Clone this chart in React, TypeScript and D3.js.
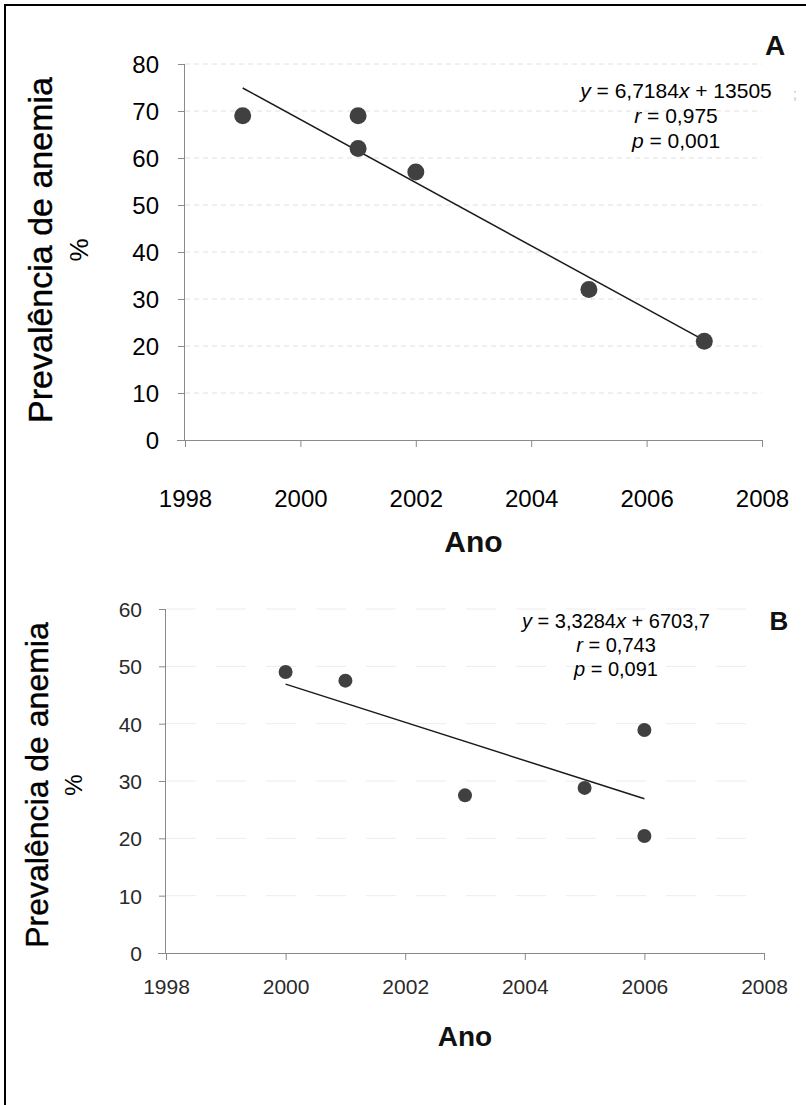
import * as d3 from 'd3'
import { useEffect, useRef } from 'react'

// Panel A
const yearsA = [1999, 2001, 2001, 2002, 2005, 2007]
const prevA = [69, 69, 62, 57, 32, 21]
const trendYearsA = [1999, 2007]
const trendValsA = [74.9, 21.2]
const yTicksA = [0, 10, 20, 30, 40, 50, 60, 70, 80]
const statsA = ['y = 6,7184x + 13505', 'r = 0,975', 'p = 0,001']

// Panel B
const yearsB = [2000, 2001, 2003, 2005, 2006, 2006]
const prevB = [49, 47.5, 27.5, 28.8, 38.9, 20.4]
const trendYearsB = [2000, 2006]
const trendValsB = [46.9, 26.9]
const yTicksB = [0, 10, 20, 30, 40, 50, 60]
const statsB = ['y = 3,3284x + 6703,7', 'r = 0,743', 'p = 0,091']

const xTicks = [1998, 2000, 2002, 2004, 2006, 2008]
const yTitle = 'Prevalência de anemia'
const xTitle = 'Ano'

const FONT = '"Liberation Sans", Arial, sans-serif'

const App = () => {
  const ref = useRef(null)

  useEffect(() => {
    if (!ref.current) return
    d3.select(ref.current).select('svg').remove()

    const svg = d3
      .select(ref.current)
      .append('svg')
      .attr('width', 806)
      .attr('height', 1105)
      .style('font-family', FONT)
      .style('display', 'block')

    svg.append('rect').attr('width', 806).attr('height', 1105).attr('fill', '#fff')

    // outer frame (only top and left visible)
    svg
      .append('path')
      .attr('d', 'M5,1105 V5 H806')
      .attr('fill', 'none')
      .attr('stroke', '#000')
      .attr('stroke-width', 2)

    const drawPanel = (o) => {
      const x = d3.scaleLinear().domain([1998, 2008]).range([o.left, o.right])
      const y = d3.scaleLinear().domain([0, o.yMax]).range([o.bottom, o.top])
      const g = svg.append('g')

      // gridlines
      g.selectAll('.grid')
        .data(o.yTicks.filter((d) => d > 0))
        .enter()
        .append('line')
        .attr('x1', o.left)
        .attr('x2', o.right)
        .attr('y1', (d) => y(d))
        .attr('y2', (d) => y(d))
        .attr('stroke', o.gridColor)
        .attr('stroke-width', 1)
        .attr('stroke-dasharray', o.dash)

      // y axis
      g.append('g')
        .attr('transform', `translate(${o.left},0)`)
        .call(d3.axisLeft(y).tickValues(o.yTicks).tickSize(7).tickPadding(o.yPad))
        .call((a) => a.select('.domain').attr('stroke', '#8a8a8a').attr('d', `M-0.5,${o.top}V${o.bottom}`))
        .call((a) => a.selectAll('.tick line').attr('stroke', '#8a8a8a'))
        .call((a) =>
          a
            .selectAll('.tick text')
            .attr('fill', o.tickColor)
            .style('font-size', `${o.tickFont}px`)
            .style('font-family', FONT)
            .attr('dy', '0.36em')
        )

      // x axis
      g.append('g')
        .attr('transform', `translate(0,${o.bottom})`)
        .call(d3.axisBottom(x).tickValues(xTicks).tickFormat(d3.format('d')).tickSize(7).tickPadding(o.xPad))
        .call((a) => a.select('.domain').attr('stroke', '#8a8a8a').attr('d', `M${o.left - 8},0.5H${o.right}`))
        .call((a) => a.selectAll('.tick line').attr('stroke', '#8a8a8a'))
        .call((a) =>
          a
            .selectAll('.tick text')
            .attr('fill', o.tickColor)
            .style('font-size', `${o.tickFont}px`)
            .style('font-family', FONT)
        )

      // trend line
      const line = d3
        .line()
        .x((d) => x(d[0]))
        .y((d) => y(d[1]))
      g.append('path')
        .datum(o.trendYears.map((yr, i) => [yr, o.trendVals[i]]))
        .attr('d', line)
        .attr('fill', 'none')
        .attr('stroke', '#1a1a1a')
        .attr('stroke-width', 1.5)

      // points
      g.selectAll('.dot')
        .data(o.years.map((yr, i) => [yr, o.vals[i]]))
        .enter()
        .append('circle')
        .attr('cx', (d) => x(d[0]))
        .attr('cy', (d) => y(d[1]))
        .attr('r', o.r)
        .attr('fill', '#404040')

      // y title
      g.append('text')
        .attr('transform', `translate(${o.titleX},${o.titleY}) rotate(-90)`)
        .attr('text-anchor', 'middle')
        .style('font-size', `${o.titleFont}px`)
        .attr('fill', '#000')
        .attr('stroke', '#000')
        .attr('stroke-width', 0.4)
        .text(yTitle)
      g.append('text')
        .attr('transform', `translate(${o.pctX},${o.titleY}) rotate(-90)`)
        .attr('text-anchor', 'middle')
        .style('font-size', `${o.pctFont}px`)
        .attr('fill', '#000')
        .text('%')

      // x title
      g.append('text')
        .attr('x', (o.left + o.right) / 2)
        .attr('y', o.xTitleY)
        .attr('text-anchor', 'middle')
        .style('font-size', `${o.xTitleFont}px`)
        .style('font-weight', 'bold')
        .attr('fill', '#111')
        .text(xTitle)

      // panel letter
      g.append('text')
        .attr('x', o.letterX)
        .attr('y', o.letterY)
        .attr('text-anchor', 'middle')
        .style('font-size', `${o.letterFont}px`)
        .style('font-weight', 'bold')
        .attr('fill', '#111')
        .text(o.letter)

      // regression stats
      o.stats.forEach((s, i) => {
        const t = g
          .append('text')
          .attr('x', o.statX)
          .attr('y', o.statY + i * o.statGap)
          .attr('text-anchor', 'middle')
          .style('font-size', `${o.statFont}px`)
          .attr('fill', '#000')
        const parts = s.split(/([xyrp])(?= |$)/)
        parts.forEach((p) => {
          if (p === '') return
          const span = t.append('tspan').text(p)
          if (/^[xyrp]$/.test(p)) span.style('font-style', 'italic')
        })
      })
    }

    drawPanel({
      left: 185,
      right: 762,
      top: 64,
      bottom: 440,
      yMax: 80,
      yTicks: yTicksA,
      dash: '5,4',
      gridColor: '#e0e0e0',
      tickFont: 24,
      tickColor: '#000',
      yPad: 19,
      xPad: 43,
      r: 8.5,
      years: yearsA,
      vals: prevA,
      trendYears: trendYearsA,
      trendVals: trendValsA,
      titleX: 52,
      pctX: 88,
      titleY: 250,
      titleFont: 34,
      pctFont: 26,
      xTitleY: 552,
      xTitleFont: 30,
      letter: 'A',
      letterX: 775,
      letterY: 55,
      letterFont: 28,
      stats: statsA,
      statX: 676,
      statY: 98,
      statGap: 25,
      statFont: 21,
    })

    drawPanel({
      left: 166,
      right: 764,
      top: 609,
      bottom: 953,
      yMax: 60,
      yTicks: yTicksB,
      dash: '30,20',
      gridColor: '#ececec',
      tickFont: 21,
      tickColor: '#2a2a2a',
      yPad: 17,
      xPad: 19,
      r: 7,
      years: yearsB,
      vals: prevB,
      trendYears: trendYearsB,
      trendVals: trendValsB,
      titleX: 48,
      pctX: 82,
      titleY: 785,
      titleFont: 32,
      pctFont: 24,
      xTitleY: 1046,
      xTitleFont: 28,
      letter: 'B',
      letterX: 779,
      letterY: 630,
      letterFont: 26,
      stats: statsB,
      statX: 616,
      statY: 628,
      statGap: 24,
      statFont: 20,
    })

    // stray mark next to panel A's equation
    svg
      .append('text')
      .attr('x', 793)
      .attr('y', 99)
      .style('font-size', '14px')
      .attr('fill', '#bbb')
      .text(';')
  }, [])

  return (
    <div style={{ position: 'absolute', left: 0, top: 0 }}>
      <div ref={ref} />
    </div>
  )
}

export default App
